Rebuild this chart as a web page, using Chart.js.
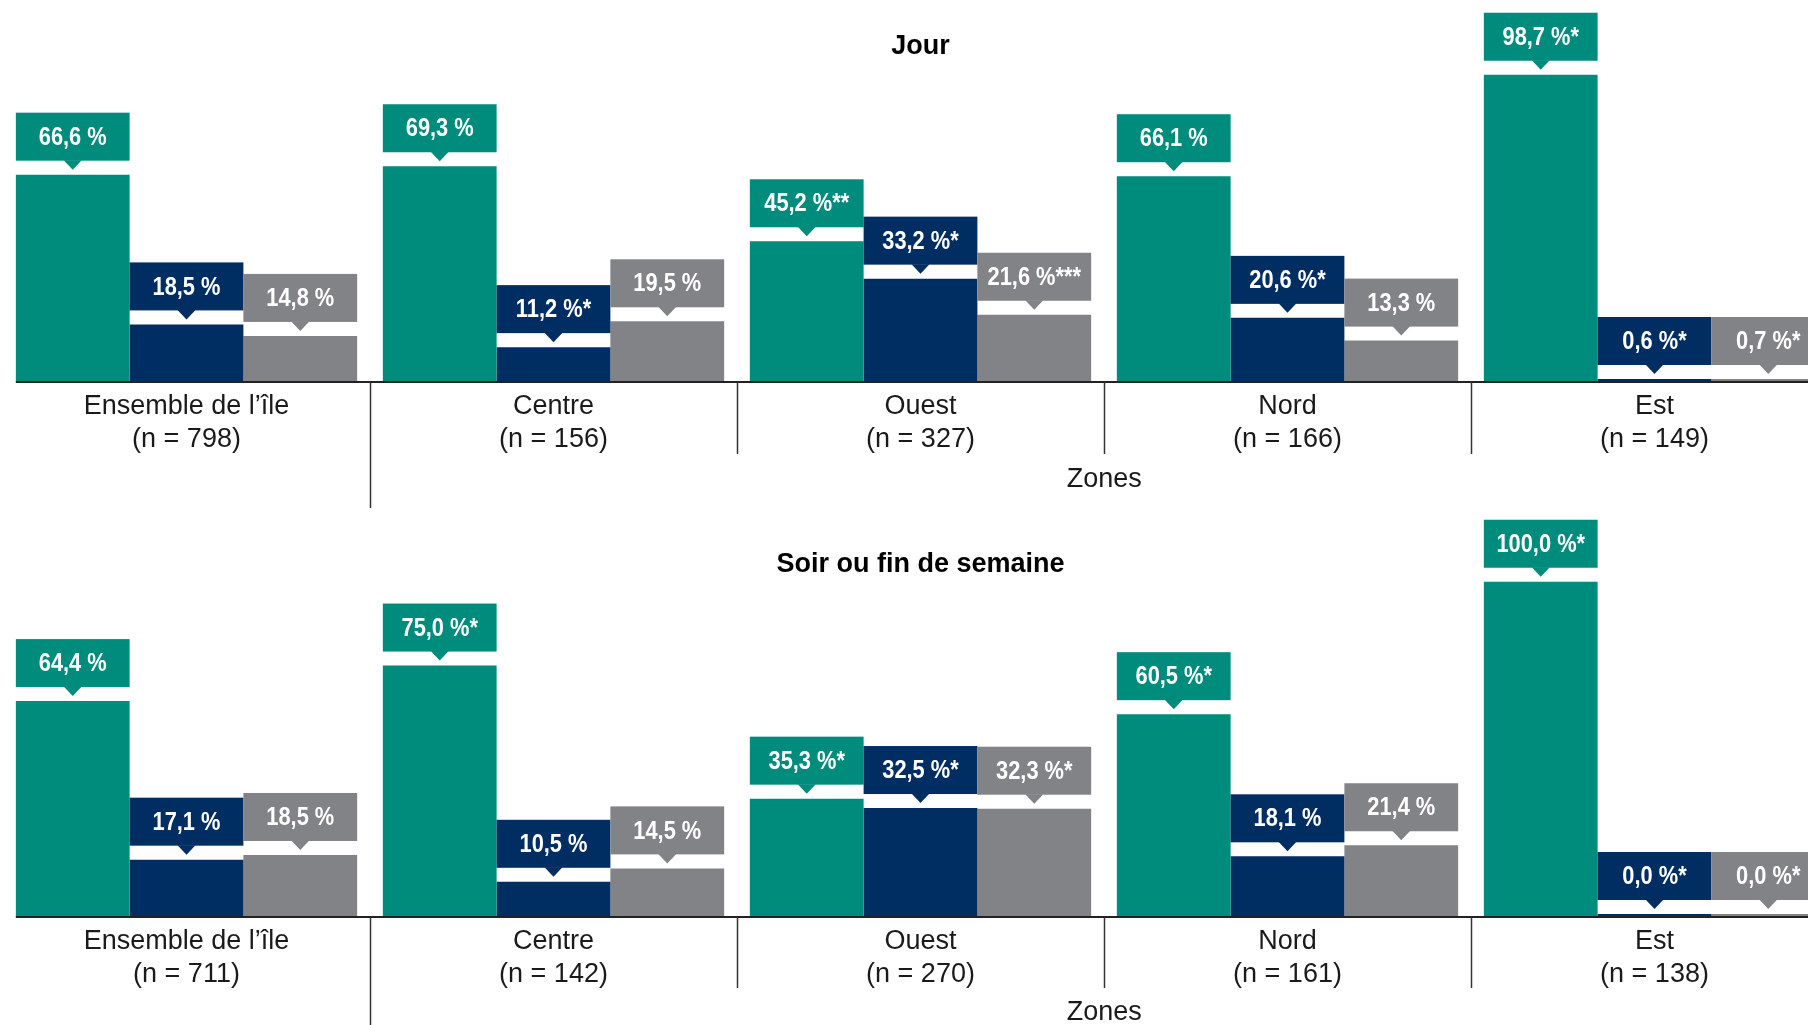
<!DOCTYPE html>
<html lang="fr">
<head>
<meta charset="utf-8">
<title>Jour / Soir ou fin de semaine</title>
<script src="https://cdn.jsdelivr.net/npm/chart.js@4.4.1/dist/chart.umd.min.js"></script>
<style>
  html, body { margin: 0; padding: 0; background: #fff; overflow: hidden; }
  canvas { display: block; }
</style>
</head>
<body>
<canvas id="jour" width="1842" height="515"></canvas>
<canvas id="soir" width="1842" height="510"></canvas>
<script>
const zones = ["Ensemble de l’île", "Centre", "Ouest", "Nord", "Est"];
const seriesNames = ["Série 1", "Série 2", "Série 3"];
const colors = ["#008C7D", "#002D62", "#828387"];

// Jour
const jourN = [798, 156, 327, 166, 149];
const jourS1 = [66.6, 69.3, 45.2, 66.1, 98.7];
const jourS2 = [18.5, 11.2, 33.2, 20.6, 0.6];
const jourS3 = [14.8, 19.5, 21.6, 13.3, 0.7];
const jourNotes1 = ["", "", "**", "", "*"];
const jourNotes2 = ["", "*", "*", "*", "*"];
const jourNotes3 = ["", "", "***", "", "*"];

// Soir ou fin de semaine
const soirN = [711, 142, 270, 161, 138];
const soirS1 = [64.4, 75.0, 35.3, 60.5, 100.0];
const soirS2 = [17.1, 10.5, 32.5, 18.1, 0.0];
const soirS3 = [18.5, 14.5, 32.3, 21.4, 0.0];
const soirNotes1 = ["", "*", "*", "*", "*"];
const soirNotes2 = ["", "", "*", "", "*"];
const soirNotes3 = ["", "", "*", "", "*"];

const fmt = (v, note) => v.toFixed(1).replace(".", ",") + " %" + note;

const labelFont = '"Liberation Sans", Arial, sans-serif';
// no condensed face installed, so the bold text gets squeezed horizontally
const calloutFont = 'bold 26px "Liberation Sans", Arial, sans-serif';
const squeeze = 0.84;

// boxes with a little pointer above each bar
const calloutPlugin = {
    id: "callouts",
    afterDatasetsDraw(chart) {
        const ctx = chart.ctx;
        ctx.save();
        chart.data.datasets.forEach((ds, i) => {
            const meta = chart.getDatasetMeta(i);
            meta.data.forEach((bar, j) => {
                const left = bar.x - bar.width / 2;
                const boxBottom = bar.y - 14;
                const boxTop = boxBottom - 48;
                ctx.fillStyle = ds.backgroundColor;
                ctx.fillRect(left, boxTop, bar.width, 48);
                ctx.beginPath();
                ctx.moveTo(bar.x - 9, boxBottom - 0.5);
                ctx.lineTo(bar.x + 9, boxBottom - 0.5);
                ctx.lineTo(bar.x, boxBottom + 9);
                ctx.closePath();
                ctx.fill();

                ctx.save();
                ctx.translate(bar.x, boxTop + 25);
                ctx.scale(squeeze, 1);
                ctx.font = calloutFont;
                ctx.textAlign = "center";
                ctx.textBaseline = "middle";
                ctx.fillStyle = "#fff";
                ctx.fillText(ds.callouts[j], 0, 0);
                ctx.restore();
            });
        });
        ctx.restore();
    },
};

// baseline, separators between zones and the "Zones" heading
const zoneMarks = {
    id: "zoneMarks",
    afterDraw(chart, args, opts) {
        const ctx = chart.ctx;
        const x = chart.scales.x;
        const base = chart.chartArea.bottom;
        const first = chart.getDatasetMeta(0).data[0];
        ctx.save();
        ctx.strokeStyle = "#222";
        ctx.lineWidth = 2;
        ctx.beginPath();
        ctx.moveTo(first.x - first.width / 2, base);
        ctx.lineTo(chart.width, base);
        ctx.stroke();

        ctx.strokeStyle = "#333";
        ctx.lineWidth = 1.5;
        let firstSep = 0;
        for (let i = 1; i < zones.length; i++) {
            const sx = Math.round((x.getPixelForValue(i - 1) + x.getPixelForValue(i)) / 2) + 0.5;
            if (i === 1) firstSep = sx;
            ctx.beginPath();
            ctx.moveTo(sx, base);
            ctx.lineTo(sx, base + (i === 1 ? opts.longDrop : opts.shortDrop));
            ctx.stroke();
        }
        ctx.fillStyle = "#1a1a1a";
        ctx.font = "27px " + labelFont;
        ctx.textAlign = "center";
        ctx.textBaseline = "middle";
        ctx.fillText("Zones", (firstSep + chart.chartArea.right) / 2, opts.zonesY);
        ctx.restore();
    },
};

function makeChart(id, title, series, notes, nValues, o) {
    const datasets = series.map((s, i) => ({
        label: seriesNames[i],
        data: s,
        callouts: s.map((v, j) => fmt(v, notes[i][j])),
        backgroundColor: colors[i],
        borderWidth: 0,
        categoryPercentage: 0.93,
        barPercentage: 1.0,
        minBarLength: 3,
    }));
    return new Chart(document.getElementById(id), {
        type: "bar",
        data: {
            labels: zones.map((z, i) => [z, "(n = " + nValues[i] + ")"]),
            datasets: datasets,
        },
        options: {
            responsive: false,
            animation: false,
            devicePixelRatio: 1,
            layout: { padding: { left: 3, right: 4, top: 0, bottom: 0 } },
            plugins: {
                legend: { display: false },
                tooltip: { enabled: false },
                title: {
                    display: true,
                    text: title,
                    color: "#000",
                    font: { size: 27, weight: "bold", family: labelFont },
                    padding: { top: o.titleTop, bottom: 0 },
                },
                zoneMarks: o.marks,
            },
            scales: {
                x: {
                    grid: { display: false, drawTicks: false },
                    border: { display: false },
                    ticks: {
                        padding: 8,
                        color: "#1a1a1a",
                        maxRotation: 0,
                        autoSkip: false,
                        font: { size: 27, family: labelFont, lineHeight: 1.22 },
                    },
                    afterFit(scale) {
                        scale.height = o.axisHeight;
                    },
                },
                y: { display: false, min: 0, max: o.yMax },
            },
        },
        plugins: [calloutPlugin, zoneMarks],
    });
}

makeChart("jour", "Jour",
    [jourS1, jourS2, jourS3], [jourNotes1, jourNotes2, jourNotes3], jourN,
    { titleTop: 30.5, axisHeight: 133, yMax: 102.5,
      marks: { shortDrop: 72, longDrop: 126, zonesY: 480 } });

makeChart("soir", "Soir ou fin de semaine",
    [soirS1, soirS2, soirS3], [soirNotes1, soirNotes2, soirNotes3], soirN,
    { titleTop: 33, axisHeight: 108, yMax: 100.4,
      marks: { shortDrop: 71, longDrop: 120, zonesY: 498 } });
</script>
</body>
</html>
